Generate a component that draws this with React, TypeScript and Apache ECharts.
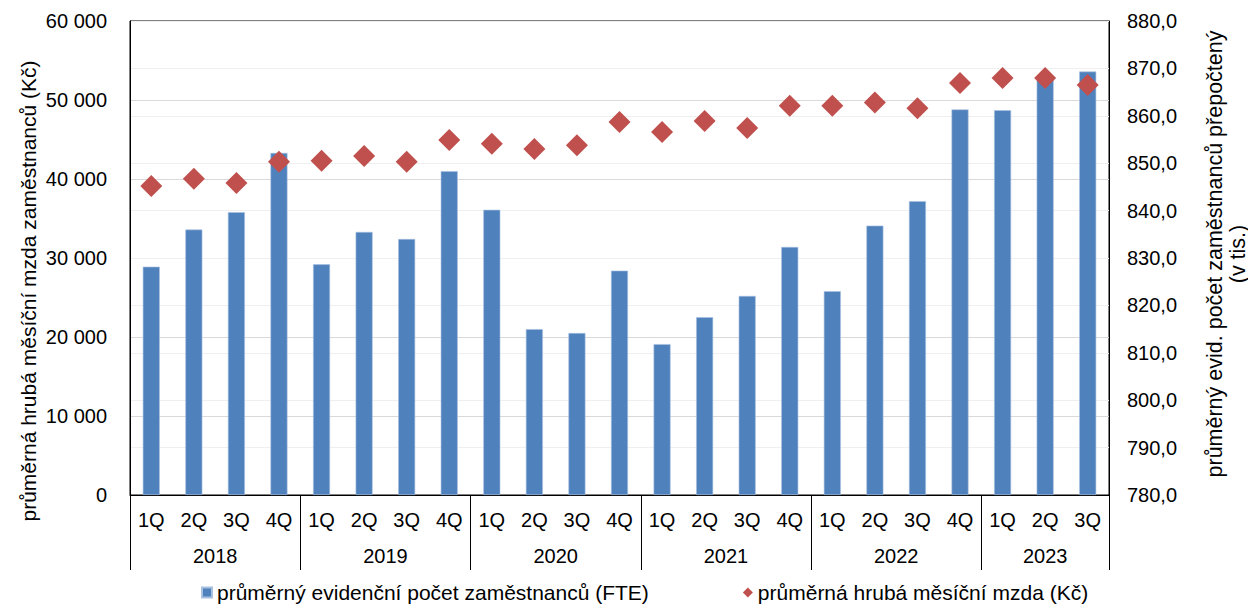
import React, { useEffect, useRef } from "react";
import * as echarts from "echarts";

const years = ["2018", "2019", "2020", "2021", "2022", "2023"];
const quartersPerYear = [4, 4, 4, 4, 4, 3];
const quarterNames = ["1Q", "2Q", "3Q", "4Q"];

const wages = [
  28900, 33600, 35800, 43300,
  29200, 33300, 32400, 41000,
  36100, 21000, 20500, 28400,
  19100, 22500, 25200, 31400,
  25800, 34100, 37200, 48800,
  48700, 53000, 53600,
];

const employees = [
  845.2, 846.7, 845.8, 850.3,
  850.5, 851.5, 850.3, 854.9,
  854.1, 853.0, 853.8, 858.7,
  856.6, 858.9, 857.4, 862.1,
  862.1, 862.8, 861.6, 866.9,
  868.0, 868.0, 866.5,
];

const barName = "průměrný evidenční počet zaměstnanců (FTE)";
const dotName = "průměrná hrubá měsíční mzda (Kč)";
const leftTitle = "průměrná hrubá měsíční mzda zaměstnanců (Kč)";
const rightTitle = "průměrný evid. počet zaměstnanců přepočtený\n(v tis.)";

const FONT = "'Liberation Sans', Arial, sans-serif";

export default function App() {
  const ref = useRef<HTMLDivElement>(null);

  useEffect(() => {
    document.body.style.margin = "0";
    if (!ref.current) return;
    const chart = echarts.init(ref.current, null, { renderer: "svg" });

    const categories: string[] = [];
    const boundaries: number[] = [0];
    const centers: number[] = [];
    const centerLabel: Record<string, string> = {};
    let pos = 0;
    years.forEach((y, i) => {
      for (let q = 0; q < quartersPerYear[i]; q++) {
        categories.push(y + "-" + quarterNames[q]);
      }
      const c = pos + quartersPerYear[i] / 2;
      centers.push(c);
      centerLabel[String(c)] = y;
      pos += quartersPerYear[i];
      boundaries.push(pos);
    });

    chart.setOption({
      animation: false,
      textStyle: { fontFamily: FONT },
      grid: {
        left: 130,
        right: 139,
        top: 21,
        bottom: 109,
        show: true,
        borderColor: "#000",
        borderWidth: 1,
        containLabel: false,
      },
      legend: {
        left: 196,
        top: 577,
        itemGap: 94,
        itemWidth: 10,
        itemHeight: 10,
        textStyle: { fontSize: 21, color: "#000", fontFamily: FONT },
        data: [
          { name: barName, icon: "rect" },
          { name: dotName, icon: "diamond" },
        ],
      },
      xAxis: [
        {
          type: "category",
          data: categories,
          position: "bottom",
          axisLine: { show: true, lineStyle: { color: "#000", width: 1 } },
          axisTick: { show: false },
          axisLabel: {
            interval: 0,
            margin: 15,
            fontSize: 20,
            color: "#000",
            fontFamily: FONT,
            formatter: (v: string) => v.split("-")[1],
          },
          splitLine: { show: false },
        },
        {
          type: "value",
          min: 0,
          max: categories.length,
          position: "bottom",
          axisLine: { show: false },
          splitLine: { show: false },
          axisTick: {
            show: true,
            customValues: boundaries,
            length: 75,
            lineStyle: { color: "#000", width: 1 },
          },
          axisLabel: {
            show: true,
            customValues: centers,
            margin: 51,
            fontSize: 20,
            color: "#000",
            fontFamily: FONT,
            formatter: (v: number) => centerLabel[String(v)] || "",
          },
        },
      ],
      yAxis: [
        {
          type: "value",
          min: 0,
          max: 60000,
          interval: 10000,
          position: "left",
          axisLine: { show: true, lineStyle: { color: "#000", width: 1 } },
          axisTick: { show: false },
          axisLabel: {
            margin: 23,
            fontSize: 20,
            color: "#000",
            fontFamily: FONT,
            formatter: (v: number) =>
              String(v).replace(/\B(?=(\d{3})+(?!\d))/g, " "),
          },
          splitLine: { show: true, lineStyle: { color: "#d9d9d9", width: 1 } },
        },
        {
          type: "value",
          min: 780,
          max: 880,
          interval: 10,
          position: "right",
          axisLine: { show: true, lineStyle: { color: "#000", width: 1 } },
          axisTick: { show: false },
          axisLabel: {
            margin: 18,
            fontSize: 20,
            color: "#000",
            fontFamily: FONT,
            formatter: (v: number) => v.toFixed(1).replace(".", ","),
          },
          splitLine: { show: true, lineStyle: { color: "#efefef", width: 1 } },
        },
      ],
      series: [
        {
          name: barName,
          type: "bar",
          xAxisIndex: 0,
          yAxisIndex: 0,
          barWidth: 17,
          data: wages,
          itemStyle: {
            color: "#4f81bd",
            borderColor: "#a9c1e0",
            borderWidth: 0.6,
          },
        },
        {
          name: dotName,
          type: "scatter",
          xAxisIndex: 0,
          yAxisIndex: 1,
          symbol: "diamond",
          symbolSize: 22,
          data: employees,
          itemStyle: { color: "#c0504d", opacity: 1 },
        },
      ],
      graphic: [
        {
          type: "text",
          x: 28,
          y: 291,
          rotation: Math.PI / 2,
          style: {
            text: leftTitle,
            fontSize: 21,
            fontFamily: FONT,
            fill: "#000",
            align: "center",
            verticalAlign: "middle",
          },
        },
        {
          type: "text",
          x: 1226,
          y: 254,
          rotation: Math.PI / 2,
          style: {
            text: rightTitle,
            fontSize: 21.5,
            lineHeight: 23,
            fontFamily: FONT,
            fill: "#000",
            align: "center",
            verticalAlign: "middle",
          },
        },
      ],
    });

    return () => chart.dispose();
  }, []);

  return <div ref={ref} style={{ width: 1248, height: 604 }} />;
}
